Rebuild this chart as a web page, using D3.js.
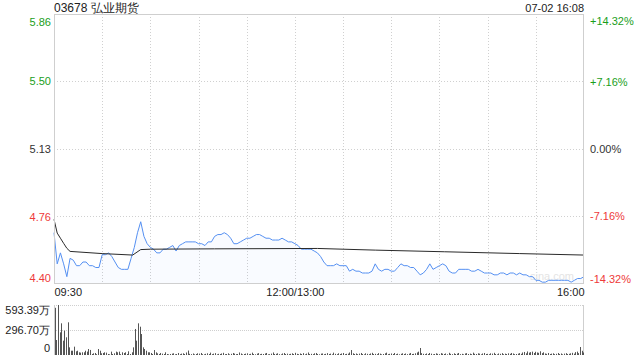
<!DOCTYPE html>
<html><head><meta charset="utf-8">
<script src="https://cdn.jsdelivr.net/npm/d3@7/dist/d3.min.js"></script>
<style>
html,body{margin:0;padding:0;background:#fff;}
svg{display:block;font-family:"Liberation Sans",Arial,Helvetica,sans-serif;}
</style></head>
<body><svg id="chart" width="640" height="360"></svg>
<script>
// ---- data ----
const title = "03678 弘业期货";
const stamp = "07-02 16:08";
const prevClose = 5.13;
const pctRange = 14.32;
const priceTicks = [5.86, 5.50, 5.13, 4.76, 4.40];
const pctTicks = ["+14.32%", "+7.16%", "0.00%", "-7.16%", "-14.32%"];
const timeTicks = [0, 150, 330];
const timeLabels = ["09:30", "12:00/13:00", "16:00"];
const gridMinutes = [30, 60, 90, 120, 150, 180, 210, 240, 270, 300];
const volTicks = [593.39, 296.70, 0];
const volLabels = ["593.39万", "296.70万", "0"];
const priceStep = 2; // minutes between price samples
const prices = [
4.67,4.50,4.56,4.50,4.43,4.53,4.52,4.49,4.49,4.51,
4.51,4.49,4.49,4.48,4.48,4.55,4.55,4.56,4.54,4.51,
4.48,4.47,4.47,4.47,4.53,4.59,4.67,4.73,4.65,4.61,
4.59,4.58,4.56,4.56,4.58,4.58,4.59,4.60,4.57,4.60,
4.61,4.62,4.62,4.62,4.62,4.61,4.61,4.60,4.62,4.62,
4.65,4.66,4.66,4.67,4.66,4.64,4.61,4.61,4.62,4.63,
4.64,4.64,4.65,4.66,4.66,4.65,4.64,4.64,4.63,4.63,
4.63,4.64,4.63,4.62,4.62,4.61,4.60,4.58,4.58,4.58,
4.58,4.57,4.56,4.54,4.51,4.49,4.49,4.49,4.50,4.49,
4.49,4.49,4.46,4.47,4.46,4.46,4.45,4.45,4.45,4.46,
4.50,4.47,4.46,4.47,4.47,4.46,4.46,4.48,4.50,4.49,
4.49,4.48,4.48,4.46,4.44,4.45,4.47,4.50,4.47,4.48,
4.49,4.50,4.49,4.46,4.45,4.45,4.47,4.47,4.47,4.47,
4.46,4.46,4.47,4.46,4.45,4.45,4.45,4.44,4.44,4.45,
4.45,4.44,4.45,4.45,4.44,4.45,4.44,4.44,4.43,4.43,
4.41,4.41,4.40,4.40,4.41,4.41,4.41,4.41,4.41,4.41,
4.41,4.40,4.41,4.42,4.42,4.43
];
const avgMinutes = [0, 2, 4, 6, 8, 10, 30, 49, 54, 60, 100, 164, 200, 243, 290, 330];
const avgPrices = [4.743, 4.668, 4.640, 4.612, 4.585, 4.568, 4.556, 4.548, 4.578, 4.580, 4.582, 4.584, 4.575, 4.566, 4.556, 4.548];
const volumes = [ // 万, one per minute
560,178,593.39,269,376,170,289,210,388,91,
51,51,99,44,51,32,28,32,32,51,
40,71,60,12,20,24,10,71,51,20,
24,32,28,12,8,40,12,20,40,32,
40,10,32,24,32,12,44,12,32,91,
309,170,376,336,249,91,71,51,32,32,
24,12,59,32,20,12,24,16,12,32,
12,8,12,16,20,8,12,24,10,16,
20,12,30,53,14,10,18,8,12,20,
16,24,10,8,14,20,12,28,10,16,
22,8,14,12,18,26,10,12,20,8,
14,24,16,10,12,30,18,8,12,16,
20,10,14,28,12,8,16,22,10,14,
12,18,24,8,10,16,30,12,14,20,
10,8,18,24,12,16,10,14,20,12,
26,14,10,18,12,22,8,16,30,12,
14,10,20,24,12,8,16,18,10,14,
22,12,16,8,28,14,10,20,12,18,
24,10,14,16,30,59,20,12,18,10,
16,24,12,8,20,14,10,18,26,12,
14,10,22,16,8,12,20,28,10,14,
18,12,24,10,16,8,14,20,12,18,
10,16,24,12,14,20,30,40,83,22,
14,10,18,12,24,16,8,12,20,14,
10,22,16,12,18,8,26,14,10,20,
12,16,24,10,14,8,18,22,12,16,
10,28,14,12,20,16,8,18,24,12,
14,10,20,16,26,12,8,18,14,22,
10,16,12,20,14,24,18,10,12,16,
22,14,30,36,20,42,28,34,40,24,
38,30,26,44,22,32,18,14,24,12,
16,20,10,14,24,12,18,8,16,22,
12,14,20,26,16,34,40,22,95,50,
30
];

// ---- layout ----
const L = 54, R = 584, T = 14, B = 283, VT = 305, VB = 355;
const svg = d3.select("#chart");
const green = "#1a9e1a", red = "#ee3a3a", dark = "#333";
const colorFor = (i) => i < 2 ? green : (i === 2 ? dark : red);

const x = d3.scaleLinear().domain([0, 330]).range([L, R]);
const lo = prevClose * (1 - pctRange / 100), hi = prevClose * (1 + pctRange / 100);
const y = d3.scaleLinear().domain([lo, hi]).range([B, T]);
const yPct = d3.scaleLinear().domain([-pctRange, pctRange]).range([B, T]);
const yv = d3.scaleLinear().domain([0, d3.max(volTicks)]).range([VB, VT]);

// title
svg.append("text").attr("x", L).attr("y", 12).attr("font-size", 12).attr("fill", "#222").text(title);
svg.append("text").attr("x", R).attr("y", 12).attr("font-size", 11).attr("fill", "#222")
  .attr("text-anchor", "end").text(stamp);

// gridlines price
const grid = svg.append("g");
grid.selectAll("line.h").data(priceTicks.slice(1, 4)).join("line")
  .attr("x1", L).attr("x2", R).attr("y1", d => Math.round(y(d)) + 0.5).attr("y2", d => Math.round(y(d)) + 0.5)
  .attr("stroke", "#d0d0d0").attr("stroke-dasharray", "1,2");
grid.selectAll("line.v").data(gridMinutes).join("line")
  .attr("x1", d => Math.round(x(d)) + 0.5).attr("x2", d => Math.round(x(d)) + 0.5)
  .attr("y1", T).attr("y2", B)
  .attr("stroke", "#d0d0d0").attr("stroke-dasharray", "1,2");

// watermark
svg.append("text").attr("x", 552).attr("y", 280).attr("text-anchor", "middle")
  .attr("font-size", 11).attr("fill", "#e4e4e4").text("sina.com");

// area + price line
const pts = prices.map((p, i) => [i * priceStep, p]);
svg.append("path").datum(pts)
  .attr("d", d3.area().x(d => x(d[0])).y0(B).y1(d => y(d[1])))
  .attr("fill", "rgba(79,142,245,0.035)");
svg.append("path").datum(pts)
  .attr("d", d3.line().x(d => x(d[0])).y(d => y(d[1])))
  .attr("fill", "none").attr("stroke", "#5590f2").attr("stroke-width", 1);
// average line
svg.append("path").datum(avgMinutes.map((m, i) => [m, avgPrices[i]]))
  .attr("d", d3.line().x(d => x(d[0])).y(d => y(d[1])))
  .attr("fill", "none").attr("stroke", "#2a2a2a").attr("stroke-width", 1);

// frame
svg.append("rect").attr("x", L + 0.5).attr("y", T + 0.5).attr("width", R - L - 1).attr("height", B - T)
  .attr("fill", "none").attr("stroke", "#cfcfcf");

// left price axis
const ax = svg.append("g").attr("transform", `translate(${L - 3},0)`)
  .call(d3.axisLeft(y).tickValues(priceTicks).tickSize(0).tickPadding(0).tickFormat(d3.format(".2f")));
ax.select(".domain").remove();
ax.selectAll("text").attr("font-size", 11).attr("font-family", "Liberation Sans, Arial, sans-serif")
  .attr("fill", (d, i) => colorFor(i))
  .attr("dy", (d, i) => i === 0 ? "0.95em" : (i === 4 ? "-0.05em" : "0.35em"));

// right pct axis
const pctVals = [pctRange, pctRange / 2, 0, -pctRange / 2, -pctRange];
const ar = svg.append("g").attr("transform", `translate(${R + 6},0)`)
  .call(d3.axisRight(yPct).tickValues(pctVals).tickSize(0).tickPadding(0).tickFormat((d, i) => pctTicks[i]));
ar.select(".domain").remove();
ar.selectAll("text").attr("font-size", 11).attr("font-family", "Liberation Sans, Arial, sans-serif")
  .attr("fill", (d, i) => colorFor(i))
  .attr("dy", (d, i) => i === 0 ? "0.95em" : (i === 4 ? "-0.05em" : "0.35em"));

// time axis
const at = svg.append("g").attr("transform", `translate(0,${B + 3})`)
  .call(d3.axisBottom(x).tickValues(timeTicks).tickSize(0).tickPadding(0).tickFormat((d, i) => timeLabels[i]));
at.select(".domain").remove();
at.selectAll("text").attr("font-size", 11).attr("font-family", "Liberation Sans, Arial, sans-serif")
  .attr("fill", "#222").attr("dy", "0.9em")
  .attr("text-anchor", (d, i) => i === 0 ? "start" : (i === 2 ? "end" : "middle"));

// volume gridlines
svg.selectAll("line.vg").data(volTicks.slice(0, 2)).join("line")
  .attr("x1", L).attr("x2", R).attr("y1", d => Math.round(yv(d)) + 0.5).attr("y2", d => Math.round(yv(d)) + 0.5)
  .attr("stroke", "#cfcfcf").attr("stroke-dasharray", "1,1");
svg.append("line").attr("x1", L + 0.5).attr("x2", L + 0.5).attr("y1", VT).attr("y2", VB).attr("stroke", "#cfcfcf");
svg.append("line").attr("x1", R - 0.5).attr("x2", R - 0.5).attr("y1", VT).attr("y2", VB).attr("stroke", "#cfcfcf");

// volume bars
const xb = d3.scaleBand().domain(d3.range(volumes.length)).range([L, R]);
svg.append("g").selectAll("rect").data(volumes).join("rect")
  .attr("x", (d, i) => Math.round(xb(i) + xb.bandwidth() / 2))
  .attr("width", 1)
  .attr("y", d => yv(d)).attr("height", d => VB - yv(d))
  .attr("fill", "#555");

// volume axis
const avx = svg.append("g").attr("transform", `translate(${L - 4},0)`)
  .call(d3.axisLeft(yv).tickValues(volTicks).tickSize(0).tickPadding(0).tickFormat((d, i) => volLabels[i]));
avx.select(".domain").remove();
avx.selectAll("text").attr("font-size", 11).attr("font-family", "Liberation Sans, Arial, sans-serif")
  .attr("fill", "#222")
  .attr("dy", (d, i) => i === 0 ? "0.75em" : (i === 2 ? "-0.35em" : "0.35em"));
</script></body></html>
